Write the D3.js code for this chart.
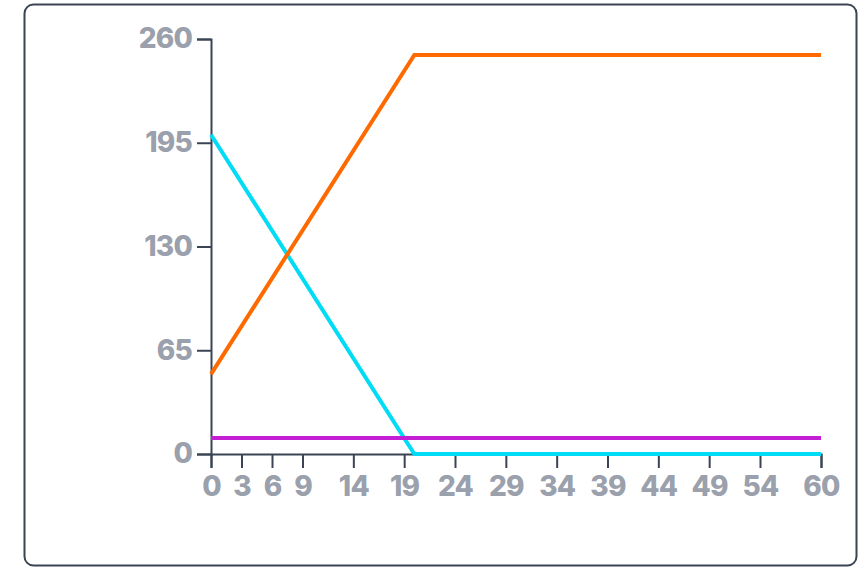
<!DOCTYPE html>
<html>
<head>
<meta charset="utf-8">
<script src="https://cdn.jsdelivr.net/npm/d3@7"></script>
<style>
  html, body { margin: 0; padding: 0; background: #fff; }
  .tick text { font-family: Inter, "Noto Sans", sans-serif; font-weight: 800; font-size: 28px; fill: #9aa0ac; letter-spacing: -0.8px; }
  .axis path, .axis line { stroke: #3b4454; stroke-width: 2; }
</style>
</head>
<body>
<div id="chart"></div>
<script>
// chart values
var xValues = [0, 20, 60];
var orangeValues = [50, 250, 250];
var cyanValues = [200, 0, 0];
var purpleValues = [10, 10, 10];
var xTicks = [0, 3, 6, 9, 14, 19, 24, 29, 34, 39, 44, 49, 54, 60];
var yTicks = [0, 65, 130, 195, 260];

var margin = {top: 39, right: 44, bottom: 119, left: 211};
var width = 865 - margin.left - margin.right;
var height = 573 - margin.top - margin.bottom;

var svgRoot = d3.select("#chart").append("svg")
    .attr("width", 865)
    .attr("height", 573);

// card border
svgRoot.append("rect")
    .attr("x", 24.5)
    .attr("y", 4.5)
    .attr("width", 832)
    .attr("height", 561)
    .attr("rx", 9)
    .style("fill", "white")
    .style("stroke", "#3b4454")
    .style("stroke-width", 2);

var svg = svgRoot.append("g")
    .attr("transform", "translate(" + margin.left + "," + margin.top + ")");

var x = d3.scaleLinear().domain([0, 60]).range([0, width]);
var y = d3.scaleLinear().domain([0, 260]).range([height, 0]);

svg.append("g")
    .attr("class", "axis")
    .call(d3.axisLeft(y).tickValues(yTicks).tickSize(14).tickPadding(5));

svg.append("g")
    .attr("class", "axis")
    .attr("transform", "translate(0," + height + ")")
    .call(d3.axisBottom(x).tickValues(xTicks).tickSize(14).tickPadding(8));

var series = [
    {name: "cyan", color: "#00dcf5", values: cyanValues},
    {name: "orange", color: "#ff6a00", values: orangeValues},
    {name: "purple", color: "#c41fd4", values: purpleValues}
];

var line = d3.line()
    .x(function(d, i) { return x(xValues[i]); })
    .y(function(d) { return y(d); });

svg.selectAll(".series")
    .data(series)
    .enter()
    .append("path")
    .attr("class", "series")
    .attr("d", function(d) { return line(d.values); })
    .style("fill", "none")
    .style("stroke", function(d) { return d.color; })
    .style("stroke-width", 4);
</script>
</body>
</html>
